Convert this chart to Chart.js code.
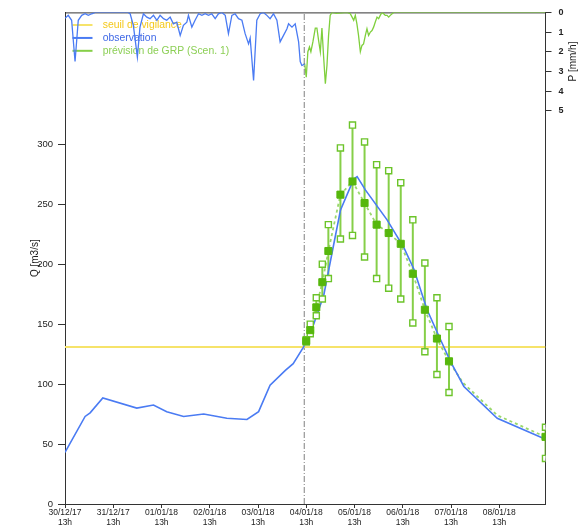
<!DOCTYPE html>
<html><head><meta charset="utf-8">
<script src="https://cdn.jsdelivr.net/npm/chart.js@4/dist/chart.umd.min.js"></script>
<style>html,body{margin:0;padding:0;background:#fff;}#wrap{width:585px;height:531px;}</style>
</head><body><div id="wrap"><canvas id="c" width="585" height="531"></canvas></div>
<script>
// ---- data ----
const xTickHours = [0,24,48,72,96,120,144,168,192,216];
const xTickDates = ['30/12/17','31/12/17','01/01/18','02/01/18','03/01/18','04/01/18','05/01/18','06/01/18','07/01/18','08/01/18'];
const xTickHour = '13h';
const qTicks = [0,50,100,150,200,250,300];
const pTicks = [0,1,2,3,4,5];
const thresholdQ = 131;
const forecastTime = 119;
const xEnd = 239;

const obsHours = [0,10,12.5,18.8,35.7,44,50.6,59,69,80.5,90.5,96.3,102,109.6,113.5,118.7,123.7,128.7,133.6,137,143.6,145.3,149.4,160.2,168.5,173.5,180.1,186.8,191.7,198.4,215,239];
const obsQ = [43,73,76,88.5,80,82.5,77,73,75,71.5,70.5,77,99,111.5,117,131,150,174,216,245,271,273,262,237,214,196,162,137,119,98,71.5,54];

const fcHours = [120,122,125,128,131,137,143,149,155,161,167,173,179,185,191,239];
const fcMedian = [136,145,164,185,211,258,269,251,233,226,217,192,162,138,119,56];
const fcMin = [135,142,157,171,188,221,224,206,188,180,171,151,127,108,93,38];
const fcMax = [137,150,172,200,233,297,316,302,283,278,268,237,201,172,148,64];

const fcDashHours = [120,122,125,128,131,137,143,149,155,161,167,173,179,185,191,198,215,239];
const fcDashQ = [136,145,164,185,211,258,269,251,233,226,217,192,162,138,119,101,74,56];

const obsRainHours = [0,1.6,3.3,5,6.6,8.3,10,11.6,13.3,15,31.4,32.4,34,36,37.3,39,40.7,42.3,44,45.7,47.3,49,50.6,52.3,53.9,55.6,57.3,58.9,60.6,61.4,63.1,64.7,66.4,68.1,69.7,71.4,73,74.7,76.3,78,79.7,81.3,83,84.6,86.3,88,89.6,91.3,92.1,93.8,95.4,97.1,98.7,100.4,102,103.7,105.4,107,108.7,110.4,111.2,112.9,114.5,116.2,117,117.8,118.7,119.2];
const obsRainP = [0.3,0.15,0.4,2.5,0.4,0.15,0.07,0.15,0.07,0,0,0.07,0.66,2.27,0.75,0.07,0.24,0.32,0.15,0.4,0.15,0.32,0.4,0.24,0.58,0.5,1.17,0.66,0.5,0.15,0.75,0.4,0.07,0.15,0.07,0.15,0.07,0.32,0.07,0,0.15,1.08,0.15,0.07,0.32,0.4,1.08,1.6,1.3,3.46,0.4,0.07,0,0.15,0.32,0.07,0.4,1.5,1.17,0.83,0.58,0.75,0.58,1.5,2.5,2.7,2.66,2.6];

const fcRainHours = [119.2,120,120.8,121.6,122.3,123.3,124.5,125.3,126.1,127,127.8,128.6,129.5,130.3,131.1,131.9,132.8,134.9,137.8,140.3,141.9,142.8,143.6,144.4,145.2,146,146.9,147.7,148.5,149.4,150.2,151,151.9,152.7,153.5,154.3,155.2,156,156.8,157.7,158.5,159.3,160.2,161,161.8,162.7,163.5,239];
const fcRainP = [2.6,3.3,2.0,1.76,2.0,1.5,0.8,0.8,1.4,2.0,0.8,2.2,3.63,2.7,1.17,0.15,0,0.05,0.02,0,0.07,0.24,0.4,0.15,0.58,1.17,2.0,1.68,1.6,1.17,0.83,1.17,1.0,0.92,0.75,0.5,0.24,0.32,0.15,0,0.07,0.15,0.15,0.24,0.15,0.07,0,0];

const legendLabels = ['seuil de vigilance','observation','prévision de GRP (Scen. 1)'];

// ---- styles ----
const FONT = "'Liberation Sans', Arial, sans-serif";
const C_BLUE = '#4a7bf3';
const C_YEL = '#f6e36a';
const C_YEL_TXT = '#f4c81a';
const C_GREEN = '#56b70c';
const C_GREEN_L = '#86cf48';
const C_GREEN_RAIN = '#7fcf3c';
const C_AXIS = '#333333';

const pts = (xs, ys) => xs.map((x, i) => ({x: x, y: ys[i]}));
const bars = [];
fcHours.forEach((h, i) => { bars.push({x: h, y: fcMin[i]}, {x: h, y: fcMax[i]}, {x: h, y: null}); });
const openPts = pts(fcHours, fcMin).concat(pts(fcHours, fcMax));

function swatch(color) {
  const c = document.createElement('canvas');
  c.width = 30; c.height = 4;
  const g = c.getContext('2d');
  g.fillStyle = color; g.fillRect(5, 1, 20, 2);
  return c;
}
const legendColors = [C_YEL, C_BLUE, C_GREEN_L];
const legendTextColors = [C_YEL_TXT, '#3f68e6', '#8ccf55'];

const framePlugin = {
  id: 'frame',
  beforeDatasetsDraw(chart) {
    const a = chart.chartArea, ctx = chart.ctx;
    ctx.save();
    ctx.strokeStyle = C_AXIS; ctx.lineWidth = 1;
    ctx.beginPath(); ctx.moveTo(a.left, a.top + 0.5); ctx.lineTo(a.right, a.top + 0.5); ctx.stroke();
    ctx.restore();
  },
  afterDraw(chart) {
    const ctx = chart.ctx, s = chart.scales.yP;
    const yc = (s.getPixelForValue(pTicks[0]) + s.getPixelForValue(pTicks[pTicks.length - 1])) / 2;
    ctx.save();
    ctx.translate(573, yc);
    ctx.rotate(-Math.PI / 2);
    ctx.font = '10px ' + FONT;
    ctx.fillStyle = '#222';
    ctx.textAlign = 'center'; ctx.textBaseline = 'middle';
    ctx.fillText('P [mm/h]', 0, 0);
    ctx.restore();
  }
};

new Chart(document.getElementById('c'), {
  type: 'line',
  data: {
    datasets: [
      {data: pts(fcHours, fcMedian), showLine: false, pointStyle: 'rect', pointRadius: 5, pointBackgroundColor: C_GREEN, pointBorderColor: C_GREEN, pointBorderWidth: 1, yAxisID: 'y'},
      {data: openPts, showLine: false, pointStyle: 'rect', pointRadius: 4.3, pointBackgroundColor: '#ffffff', pointBorderColor: '#6cc42a', pointBorderWidth: 1.4, yAxisID: 'y'},
      {data: pts(obsHours, obsQ), borderColor: C_BLUE, borderWidth: 1.6, pointRadius: 0, yAxisID: 'y'},
      {data: bars, borderColor: C_GREEN_L, borderWidth: 2, pointRadius: 0, spanGaps: false, yAxisID: 'y'},
      {data: pts(fcDashHours, fcDashQ), borderColor: '#9ad86c', borderWidth: 1.8, borderDash: [3, 3], pointRadius: 0, yAxisID: 'y'},
      {data: [{x: 0, y: thresholdQ}, {x: xEnd, y: thresholdQ}], borderColor: C_YEL, borderWidth: 2, pointRadius: 0, yAxisID: 'y'},
      {data: [{x: forecastTime, y: 0}, {x: forecastTime, y: 410}], borderColor: '#808080', borderWidth: 1, borderDash: [6, 2, 1, 2], pointRadius: 0, yAxisID: 'y'},
      {data: pts(obsRainHours, obsRainP), borderColor: C_BLUE, borderWidth: 1.3, pointRadius: 0, yAxisID: 'yP'},
      {data: pts(fcRainHours, fcRainP), borderColor: C_GREEN_RAIN, borderWidth: 1.3, pointRadius: 0, yAxisID: 'yP'}
    ]
  },
  options: {
    responsive: false,
    animation: false,
    devicePixelRatio: 1,
    layout: {padding: {top: 12, left: 0, right: 0, bottom: 0}},
    elements: {line: {tension: 0}},
    plugins: {
      tooltip: {enabled: false},
      legend: {
        position: 'chartArea',
        align: 'start',
        onClick: null,
        title: {display: true, text: '', font: {size: 1, lineHeight: 1}, padding: {top: 0, bottom: 16.3}},
        labels: {
          usePointStyle: true,
          pointStyleWidth: 30,
          boxHeight: 2,
          padding: 2.5,
          font: {family: FONT, size: 10.4},
          generateLabels: () => legendLabels.map((t, i) => ({
            text: t, fillStyle: legendColors[i], strokeStyle: legendColors[i], lineWidth: 0,
            fontColor: legendTextColors[i], pointStyle: swatch(legendColors[i]), hidden: false, datasetIndex: i
          }))
        }
      }
    },
    scales: {
      x: {
        type: 'linear', position: 'bottom', min: 0, max: xEnd,
        afterBuildTicks: s => { s.ticks = xTickHours.map(v => ({value: v})); },
        afterFit: s => { s.height = 27; },
        grid: {display: true, drawOnChartArea: false, drawTicks: true, tickLength: 4, color: C_AXIS},
        border: {display: true, color: C_AXIS, width: 1},
        ticks: {
          padding: 0, maxRotation: 0, autoSkip: false, color: '#222',
          font: {family: FONT, size: 8.5, lineHeight: 1.18},
          callback: (v, i) => [xTickDates[i], xTickHour]
        }
      },
      y: {
        type: 'linear', position: 'left', min: 0, max: 410,
        afterBuildTicks: s => { s.ticks = qTicks.map(v => ({value: v})); },
        afterFit: s => { s.width = 65; },
        grid: {display: true, drawOnChartArea: false, drawTicks: true, tickLength: 7, color: C_AXIS},
        border: {display: true, color: C_AXIS, width: 1},
        title: {display: true, text: 'Q [m3/s]', color: '#222', font: {family: FONT, size: 10}, padding: {top: 29, bottom: 0}},
        ticks: {padding: 5, color: '#222', font: {family: FONT, size: 9.5}}
      },
      yP: {
        type: 'linear', position: 'right', min: 0, max: 25, reverse: true,
        afterBuildTicks: s => { s.ticks = pTicks.map(v => ({value: v})); },
        afterFit: s => { s.width = 39.5; },
        grid: {display: true, drawOnChartArea: false, drawTicks: true, tickLength: 6, color: C_AXIS},
        border: {display: true, color: C_AXIS, width: 1},
        ticks: {padding: 7, color: '#222', font: {family: FONT, size: 9, weight: 'bold'}}
      }
    }
  },
  plugins: [framePlugin]
});
</script>
</body></html>
